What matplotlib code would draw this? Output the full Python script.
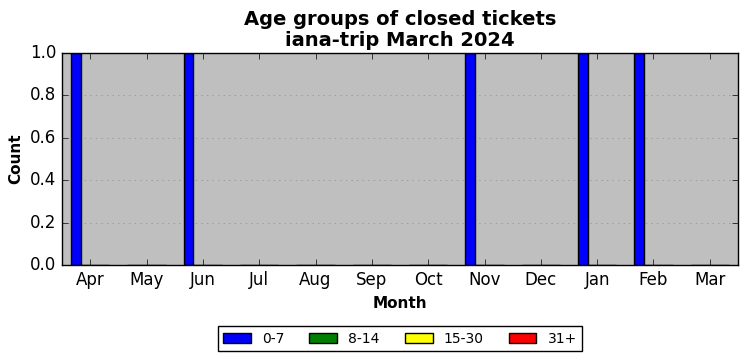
import matplotlib

matplotlib.use("Agg")
import matplotlib.pyplot as plt
import numpy as np

plt.style.use("classic")

months = ["Apr", "May", "Jun", "Jul", "Aug", "Sep", "Oct", "Nov", "Dec", "Jan", "Feb", "Mar"]
groups = ["0-7", "8-14", "15-30", "31+"]
colors = ["blue", "green", "yellow", "red"]

age_0_7 = [1, 0, 1, 0, 0, 0, 0, 1, 0, 1, 1, 0]
age_8_14 = [0, 0, 0, 0, 0, 0, 0, 0, 0, 0, 0, 0]
age_15_30 = [0, 0, 0, 0, 0, 0, 0, 0, 0, 0, 0, 0]
age_31_plus = [0, 0, 0, 0, 0, 0, 0, 0, 0, 0, 0, 0]
series = [age_0_7, age_8_14, age_15_30, age_31_plus]

fig = plt.figure(figsize=(7.47, 3.61), dpi=100)
fig.patch.set_facecolor("white")
ax = fig.add_axes([62 / 747, 1 - 265 / 361, 676 / 747, 212 / 361])
ax.set_facecolor("#bfbfbf")

x = np.arange(len(months))
width = 0.17
for i, (vals, name, col) in enumerate(zip(series, groups, colors)):
    ax.bar(x - 0.255 + i * 0.17, vals, width, color=col, edgecolor="black",
           linewidth=1, label=name, align="center")

ax.set_xlim(-0.5, 11.5)
ax.set_ylim(0, 1.0)
ax.set_xticks(x)
ax.set_xticklabels(months)
ax.set_yticks(np.arange(0, 1.01, 0.2))
ax.yaxis.grid(True, linestyle=":", color="gray", alpha=0.8)
ax.set_axisbelow(True)

ax.set_title("Age groups of closed tickets\niana-trip March 2024",
             fontsize=14, fontweight="bold", linespacing=1.12)
ax.set_xlabel("Month", fontsize=11, fontweight="bold")
ax.set_ylabel("Count", fontsize=11, fontweight="bold")

ax.legend(loc="upper center", bbox_to_anchor=(0.5, -0.255), ncol=4,
          fontsize=10, frameon=True, fancybox=False, columnspacing=1.8)

fig.savefig("out.png", dpi=100)
